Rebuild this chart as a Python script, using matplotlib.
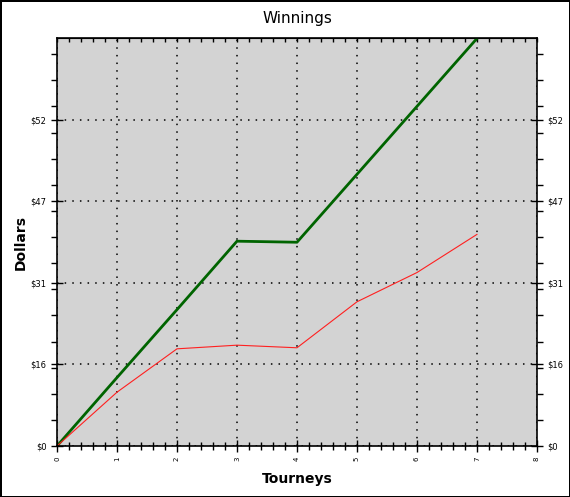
import numpy as np
import matplotlib
matplotlib.use("Agg")
import matplotlib.pyplot as plt
from matplotlib.ticker import MultipleLocator

# data
tourneys = [0, 1, 2, 3, 4, 5, 6, 7]
total_winnings = [0, 13.1, 26.1, 39.2, 39.0, 52.0, 65.0, 78.0]
per_tourney = [0, 10.3, 18.6, 19.3, 18.8, 27.6, 33.2, 40.5]

y_ticks = [0, 15.6, 31.2, 46.8, 62.4]
y_labels = ["$0", "$16", "$31", "$47", "$52"]
x_ticks = [0, 1, 2, 3, 4, 5, 6, 7, 8]

fig = plt.figure(figsize=(5.7, 4.97), dpi=100)
fig.patch.set_facecolor("white")
fig.patch.set_edgecolor("black")
fig.patch.set_linewidth(2)

ax = fig.add_axes([0.1, 0.1026, 0.842, 0.82])
ax.set_facecolor("#d3d3d3")

ax.plot(tourneys, total_winnings, color="#006400", lw=2, clip_on=True)
ax.plot(tourneys, per_tourney, color="#ff2020", lw=0.8)

ax.set_xlim(0, 8)
ax.set_ylim(0, 78)

ax.set_xticks(x_ticks)
ax.set_xticklabels([str(v) for v in x_ticks], rotation=90, fontsize=5)
ax.xaxis.set_minor_locator(MultipleLocator(0.2))
ax.set_yticks(y_ticks)
ax.set_yticklabels(y_labels, fontsize=6)
ax.yaxis.set_minor_locator(MultipleLocator(5))

ax.tick_params(which="major", direction="inout", length=8, width=1,
               left=True, right=True, top=False, bottom=True,
               labelleft=True, labelright=True)
ax.tick_params(which="minor", direction="out", length=4, width=1,
               left=True, right=True, bottom=True, top=False)
ax.tick_params(axis="x", which="minor", direction="inout", length=6)

# top minor ticks pointing in
top = ax.secondary_xaxis("top")
top.set_xticks([])
top.xaxis.set_minor_locator(MultipleLocator(0.2))
top.tick_params(which="minor", direction="in", length=3, width=1)
top.tick_params(which="major", direction="in", length=0)

ax.grid(True, which="major", color="black", linestyle=(0, (1, 4)), lw=1.1)

for s in ax.spines.values():
    s.set_linewidth(1.2)

ax.set_title("Winnings", fontsize=11, pad=11)
ax.set_xlabel("Tourneys", fontsize=10, fontweight="bold", labelpad=8)
ax.set_ylabel("Dollars", fontsize=10, fontweight="bold", labelpad=2)

fig.savefig("out.png", dpi=100, edgecolor=fig.get_edgecolor())
